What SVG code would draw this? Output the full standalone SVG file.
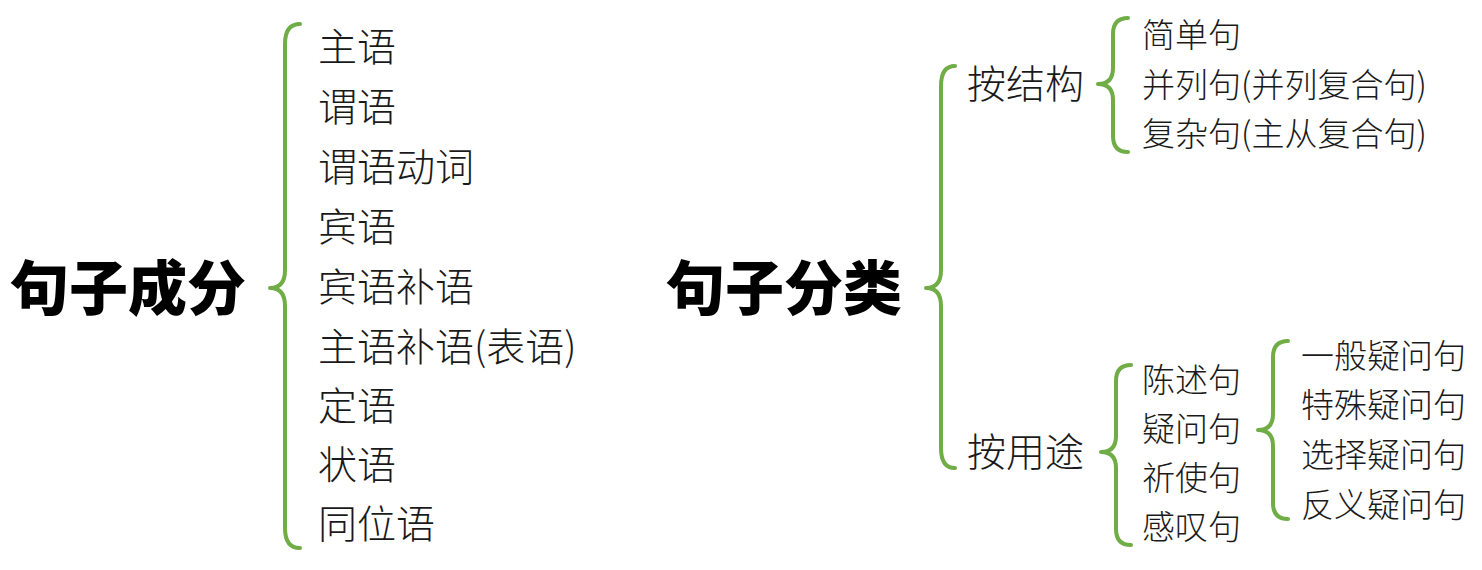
<svg xmlns="http://www.w3.org/2000/svg" width="1482" height="570" viewBox="0 0 1482 570">
  <style>
    .title { font-family: "Noto Sans CJK SC", sans-serif; font-weight: 900; font-size: 59px; fill: #000; }
    .item { font-family: "Noto Sans CJK SC", sans-serif; font-weight: 300; fill: #1a1a1a; }
    .l1 { font-size: 39px; }
    .l2 { font-size: 39px; }
    .l3 { font-size: 33px; }
    .brace { fill: none; stroke: #70ad47; stroke-width: 4; stroke-linecap: round; stroke-linejoin: round; }
  </style>
  <rect width="1482" height="570" fill="#fff"/>

  <!-- brackets joining each heading to its entries -->
  <g id="connectors">
    <path class="brace" d="M300,24 Q285,24 285,44 L285,270 Q285,288 270,288 Q285,288 285,306 L285,528 Q285,548 300,548"/>
    <path class="brace" d="M955,66 Q941,66 941,86 L941,270 Q941,288 926,288 Q941,288 941,306 L941,448 Q941,468 955,468"/>
    <path class="brace" d="M1128,18 Q1113,18 1113,34 L1113,68 Q1113,84 1098,84 Q1113,84 1113,100 L1113,136 Q1113,152 1128,152"/>
    <path class="brace" d="M1131,365 Q1116,365 1116,381 L1116,436 Q1116,452 1101,452 Q1116,452 1116,468 L1116,529 Q1116,545 1131,545"/>
    <path class="brace" d="M1288,341 Q1273,341 1273,357 L1273,414 Q1273,430 1258,430 Q1273,430 1273,446 L1273,503 Q1273,519 1288,519"/>
  </g>

  <!-- sentence elements -->
  <g id="n-elements"><text class="title" x="10" y="310">句子成分</text></g>
  <g id="n-subject"><text class="item l1" x="318" y="61">主语</text></g>
  <g id="n-predicate"><text class="item l1" x="318" y="121">谓语</text></g>
  <g id="n-predicate-verb"><text class="item l1" x="318" y="181">谓语动词</text></g>
  <g id="n-object"><text class="item l1" x="318" y="241">宾语</text></g>
  <g id="n-object-complement"><text class="item l1" x="318" y="301">宾语补语</text></g>
  <g id="n-subject-complement"><text class="item l1" x="318" y="361">主语补语(表语)</text></g>
  <g id="n-attribute"><text class="item l1" x="318" y="420">定语</text></g>
  <g id="n-adverbial"><text class="item l1" x="318" y="479">状语</text></g>
  <g id="n-appositive"><text class="item l1" x="318" y="538">同位语</text></g>

  <!-- sentence types -->
  <g id="n-types"><text class="title" x="666" y="310">句子分类</text></g>
  <g id="n-by-structure"><text class="item l2" x="967" y="98">按结构</text></g>
  <g id="n-simple"><text class="item l3" x="1142" y="47">简单句</text></g>
  <g id="n-compound"><text class="item l3" x="1142" y="97">并列句(并列复合句)</text></g>
  <g id="n-complex"><text class="item l3" x="1142" y="146">复杂句(主从复合句)</text></g>

  <g id="n-by-use"><text class="item l2" x="967" y="466">按用途</text></g>
  <g id="n-declarative"><text class="item l3" x="1142" y="392">陈述句</text></g>
  <g id="n-interrogative"><text class="item l3" x="1142" y="441">疑问句</text></g>
  <g id="n-imperative"><text class="item l3" x="1142" y="490">祈使句</text></g>
  <g id="n-exclamatory"><text class="item l3" x="1142" y="539">感叹句</text></g>

  <g id="n-general"><text class="item l3" x="1301" y="368">一般疑问句</text></g>
  <g id="n-special"><text class="item l3" x="1301" y="417">特殊疑问句</text></g>
  <g id="n-alternative"><text class="item l3" x="1301" y="467">选择疑问句</text></g>
  <g id="n-tag"><text class="item l3" x="1301" y="517">反义疑问句</text></g>
</svg>
